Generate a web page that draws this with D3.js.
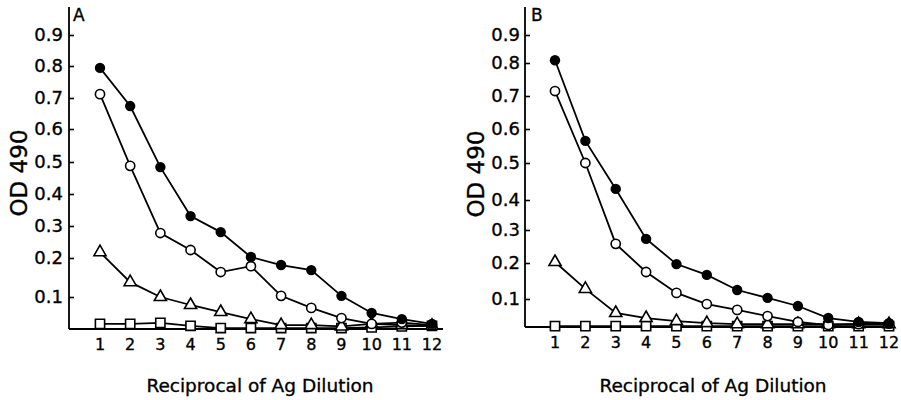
<!DOCTYPE html>
<html>
<head>
<meta charset="utf-8">
<script src="https://cdn.jsdelivr.net/npm/d3@7"></script>
<style>
  html, body { margin: 0; padding: 0; background: #fff; }
  svg { display: block; }
  text { font-family: "DejaVu Sans", sans-serif; fill: #000; stroke: #000; stroke-width: 0.35px; }
</style>
</head>
<body>
<svg id="chart" width="901" height="400"></svg>
<script>
// Reciprocal of antigen dilution (x categories)
const dilutions = [1, 2, 3, 4, 5, 6, 7, 8, 9, 10, 11, 12];
// OD 490 tick labels
const yTicks = [0.1, 0.2, 0.3, 0.4, 0.5, 0.6, 0.7, 0.8, 0.9];

// Panel A readings
const aFilled   = [0.794, 0.674, 0.484, 0.331, 0.281, 0.203, 0.182, 0.169, 0.103, 0.050, 0.031, 0.016];
const aOpen     = [0.712, 0.488, 0.278, 0.225, 0.164, 0.179, 0.103, 0.066, 0.034, 0.016, 0.020, 0.012];
const aTriangle = [0.218, 0.138, 0.100, 0.075, 0.053, 0.031, 0.012, 0.012, 0.008, 0.016, 0.012, 0.010];
const aSquare   = [0.016, 0.016, 0.019, 0.010, 0.003, 0.003, 0.003, 0.003, 0.003, 0.005, 0.008, 0.010];

// Panel B readings
const bFilled   = [0.810, 0.565, 0.430, 0.273, 0.197, 0.167, 0.125, 0.103, 0.075, 0.032, 0.018, 0.014];
const bOpen     = [0.715, 0.500, 0.258, 0.175, 0.117, 0.082, 0.061, 0.039, 0.018, 0.007, 0.010, 0.012];
const bTriangle = [0.203, 0.128, 0.050, 0.032, 0.021, 0.014, 0.010, 0.010, 0.010, 0.010, 0.010, 0.010];
const bSquare   = [0.003, 0.003, 0.003, 0.003, 0.003, 0.003, 0.003, 0.003, 0.003, 0.003, 0.003, 0.003];

const xTitle = "Reciprocal of Ag Dilution";
const yTitle = "OD 490";

// Layout of each panel; the hand-drawn value axis has uneven tick spacing,
// so the y scale is piecewise linear through the tick positions.
const panels = [
  {
    letter: "A", axisX: 69, axisRight: 443, axisTop: 7, xFirst: 100, xLast: 432,
    yStops: [329, 297, 258, 226, 194, 162, 129, 98, 66, 35],
    tickLabelX: 63, yTitleX: 19, yTitleY: 173, xTitleX: 260, letterX: 73,
    series: [
      { values: aSquare, shape: "square" },
      { values: aTriangle, shape: "triangle" },
      { values: aOpen, shape: "open" },
      { values: aFilled, shape: "filled" }
    ]
  },
  {
    letter: "B", axisX: 525, axisRight: 895, axisTop: 7, xFirst: 555, xLast: 889,
    yStops: [327, 299, 263, 230, 200, 163, 129, 96, 63, 35],
    tickLabelX: 520, yTitleX: 476, yTitleY: 174, xTitleX: 713, letterX: 531,
    series: [
      { values: bSquare, shape: "square" },
      { values: bTriangle, shape: "triangle" },
      { values: bOpen, shape: "open" },
      { values: bFilled, shape: "filled" }
    ]
  }
];

const ink = "#000";
const svg = d3.select("#chart");

panels.forEach(p => {
  const g = svg.append("g");

  const x = d3.scaleLinear().domain([1, 12]).range([p.xFirst, p.xLast]);
  const y = d3.scaleLinear().domain([0, ...yTicks]).range(p.yStops);
  const base = y(0);

  // y axis with inward ticks
  const yAxis = d3.axisRight(y).tickValues(yTicks).tickSize(5).tickFormat("");
  const ya = g.append("g").attr("transform", `translate(${p.axisX},0)`).call(yAxis);
  ya.select(".domain").remove();
  ya.selectAll(".tick line").attr("stroke", ink).attr("stroke-width", 1.6);
  g.append("line")
    .attr("x1", p.axisX).attr("x2", p.axisX)
    .attr("y1", p.axisTop).attr("y2", base)
    .attr("stroke", ink).attr("stroke-width", 1.8);

  // y tick labels
  g.selectAll(".ylab").data(yTicks).join("text")
    .attr("class", "ylab")
    .attr("x", p.tickLabelX)
    .attr("y", d => y(d))
    .attr("dy", "0.36em")
    .attr("text-anchor", "end")
    .attr("font-size", 18)
    .text(d => d3.format(".1f")(d));

  // x axis baseline
  g.append("line")
    .attr("x1", p.axisX).attr("x2", p.axisRight)
    .attr("y1", base).attr("y2", base)
    .attr("stroke", ink).attr("stroke-width", 1.8);

  // x tick labels
  g.selectAll(".xlab").data(dilutions).join("text")
    .attr("class", "xlab")
    .attr("x", d => x(d))
    .attr("y", base + 21)
    .attr("text-anchor", "middle")
    .attr("font-size", 16)
    .text(d => d);

  // axis titles
  g.append("text")
    .attr("x", p.xTitleX).attr("y", 392)
    .attr("text-anchor", "middle")
    .attr("font-size", 18.5)
    .text(xTitle);

  g.append("text")
    .attr("transform", `translate(${p.yTitleX},${p.yTitleY}) rotate(-90)`)
    .attr("text-anchor", "middle")
    .attr("dy", "0.36em")
    .attr("font-size", 23)
    .text(yTitle);

  // panel letter
  g.append("text")
    .attr("x", p.letterX).attr("y", 21)
    .attr("font-size", 17)
    .attr("stroke-width", 0.2)
    .text(p.letter);

  const line = d3.line().x((d, i) => x(dilutions[i])).y(d => y(d));

  // connecting lines
  p.series.forEach(s => {
    g.append("path")
      .datum(s.values)
      .attr("d", line)
      .attr("fill", "none")
      .attr("stroke", ink)
      .attr("stroke-width", 1.8);
  });

  // markers
  const tri = d3.symbol().type(d3.symbolTriangle).size(64);
  const sq = d3.symbol().type(d3.symbolSquare).size(85);
  p.series.forEach(s => {
    const mg = g.append("g");
    s.values.forEach((v, i) => {
      const cx = x(dilutions[i]), cy = y(v);
      if (s.shape === "filled") {
        mg.append("circle").attr("cx", cx).attr("cy", cy).attr("r", 5.2).attr("fill", ink);
      } else if (s.shape === "open") {
        mg.append("circle").attr("cx", cx).attr("cy", cy).attr("r", 4.6)
          .attr("fill", "#fff").attr("stroke", ink).attr("stroke-width", 1.6);
      } else if (s.shape === "triangle") {
        mg.append("path").attr("d", tri()).attr("transform", `translate(${cx},${cy})`)
          .attr("fill", "#fff").attr("stroke", ink).attr("stroke-width", 1.6);
      } else {
        mg.append("path").attr("d", sq()).attr("transform", `translate(${cx},${cy})`)
          .attr("fill", "#fff").attr("stroke", ink).attr("stroke-width", 1.6);
      }
    });
  });
});
</script>
</body>
</html>
